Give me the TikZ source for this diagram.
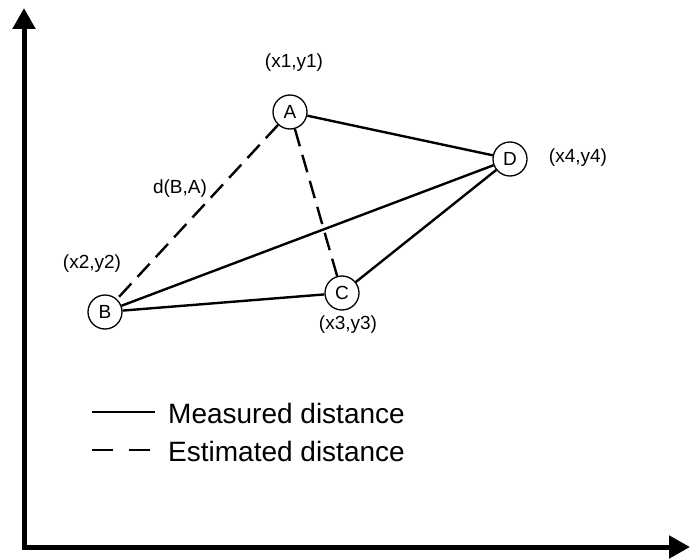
\documentclass[tikz,border=0pt]{standalone}
\usepackage{fontspec}
\setmainfont{Liberation Sans}
\usetikzlibrary{arrows.meta}
\begin{document}
\begin{tikzpicture}[x=1pt,y=-1pt,
  pt/.style={circle,draw,line width=1.3pt,minimum size=34pt,inner sep=0pt,font=\fontsize{19}{21}\selectfont},
  lbl/.style={font=\fontsize{19}{21}\selectfont,inner sep=0pt},
  meas/.style={line width=2.4pt},
  est/.style={line width=2.4pt,dash pattern=on 18pt off 9pt},
  axis/.style={line width=5pt,-{Triangle[length=21pt,width=22pt]}},
  leg/.style={font=\fontsize{28}{32}\selectfont,anchor=west,inner sep=0pt}]
\useasboundingbox (0,0) rectangle (690,559);
\coordinate (O) at (24,547);
\coordinate (Y) at (24,8);
\coordinate (X) at (690,547);
\draw[axis] (O) -- (Y);
\draw[axis] ([xshift=-2.5pt]O) -- (X);
\node[pt] (A) at (290,112) {A};
\node[pt] (B) at (105,312) {B};
\node[pt] (C) at (342,293) {C};
\node[pt] (D) at (510,159) {D};
\node[lbl] (la) at (294,63) {(x1,y1)};
\node[lbl] (lb) at (92,264) {(x2,y2)};
\node[lbl] (lc) at (348,325) {(x3,y3)};
\node[lbl] (ld) at (578,158) {(x4,y4)};
\node[lbl] (lba) at (180,189) {d(B,A)};
\draw[meas] (A) -- (D);
\draw[meas] (B) -- (D);
\draw[meas] (B) -- (C);
\draw[meas] (C) -- (D);
\draw[est] (A) -- (B);
\draw[est] (A) -- (C);
\coordinate (m1) at (92,412);
\coordinate (m2) at (155,412);
\coordinate (e1) at (92,450);
\coordinate (e2) at (150,450);
\draw[meas] (m1) -- (m2);
\draw[line width=2.4pt,dash pattern=on 21pt off 16pt] (e1) -- (e2);
\node[leg] (lm) at (168,413) {Measured distance};
\node[leg] (le) at (168,451) {Estimated distance};
\end{tikzpicture}
\end{document}
